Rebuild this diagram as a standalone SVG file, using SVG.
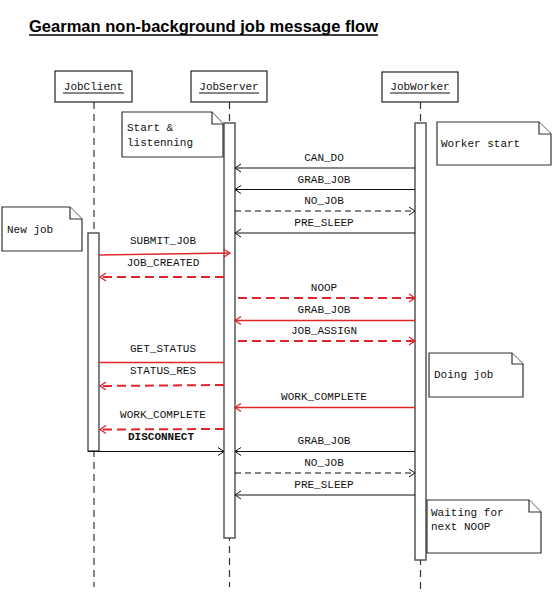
<svg xmlns="http://www.w3.org/2000/svg" width="554" height="614" viewBox="0 0 554 614">
<style>
.t{font-family:"Liberation Mono","DejaVu Sans Mono",monospace;font-size:11px;fill:#111}
.c{text-anchor:middle}
.box{fill:#fff;stroke:#222;stroke-width:1.2}
.life{stroke:#333;stroke-width:1.2;stroke-dasharray:7 5;fill:none}
.bar{fill:#fff;stroke:#555;stroke-width:1.5}
.note{fill:#fff;stroke:#333;stroke-width:1.2}
.m{stroke:#111;stroke-width:1;fill:none}
.md{stroke:#111;stroke-width:1;fill:none;stroke-dasharray:6 4}
.r{stroke:#e0262b;stroke-width:1.3;fill:none}
.rd{stroke:#e0262b;stroke-width:2;fill:none;stroke-dasharray:9 5}
.ah{stroke:#111;stroke-width:1;fill:none}
.rh{stroke:#e0262b;stroke-width:1.3;fill:none}
</style>
<rect width="554" height="614" fill="#fff"/>
<g id="title">
<text x="29" y="32" font-family="'Liberation Sans',Arial,sans-serif" font-weight="bold" font-size="16.5" textLength="349" lengthAdjust="spacingAndGlyphs" fill="#000">Gearman non-background job message flow</text>
<line x1="29" y1="35" x2="378" y2="35" stroke="#000" stroke-width="1.5"/>
</g>
<g id="JobClient">
<line class="life" x1="94" y1="102" x2="94" y2="587"/>
<rect class="box" x="55" y="71" width="77" height="31"/>
<text class="t c" x="93.5" y="90">JobClient</text>
<line x1="63" y1="93" x2="124" y2="93" stroke="#111" stroke-width="1"/>
<rect class="bar" x="88" y="233" width="11" height="218"/>
</g>
<g id="JobServer">
<line class="life" x1="229.5" y1="102" x2="229.5" y2="587"/>
<rect class="box" x="191" y="71" width="76" height="31"/>
<text class="t c" x="229" y="90">JobServer</text>
<line x1="199" y1="93" x2="259" y2="93" stroke="#111" stroke-width="1"/>
<rect class="bar" x="224" y="123" width="11" height="415"/>
</g>
<g id="JobWorker">
<line class="life" x1="420.5" y1="102" x2="420.5" y2="590"/>
<rect class="box" x="382" y="72" width="76" height="30"/>
<text class="t c" x="420" y="90">JobWorker</text>
<line x1="390" y1="93" x2="450" y2="93" stroke="#111" stroke-width="1"/>
<rect class="bar" x="415" y="123" width="11" height="437"/>
</g>
<g id="note-start">
<path class="note" d="M122,112 H212 L223,124 V157 H122 Z"/>
<path class="note" d="M212,112 V124 H223" fill="none"/>
<text class="t" x="127" y="131">Start &amp;</text>
<text class="t" x="127" y="146">listenning</text>
</g>
<g id="note-worker">
<path class="note" d="M437,122 H539 L551,134 V165 H437 Z"/>
<path class="note" d="M539,122 V134 H551" fill="none"/>
<text class="t" x="441" y="147">Worker start</text>
</g>
<g id="note-newjob">
<path class="note" d="M2,207 H70 L82,219 V251 H2 Z"/>
<path class="note" d="M70,207 V219 H82" fill="none"/>
<text class="t" x="7" y="233">New job</text>
</g>
<g id="note-doing">
<path class="note" d="M429,353 H512 L523,364 V397 H429 Z"/>
<path class="note" d="M512,353 V364 H523" fill="none"/>
<text class="t" x="434" y="378">Doing job</text>
</g>
<g id="note-waiting">
<path class="note" d="M427,500 H529 L541,512 V553 H427 Z"/>
<path class="note" d="M529,500 V512 H541" fill="none"/>
<text class="t" x="431" y="516">Waiting for</text>
<text class="t" x="431" y="530">next NOOP</text>
</g>
<g id="connectors">
<!-- CAN_DO -->
<line class="m" x1="415" y1="168" x2="235" y2="168"/>
<path class="ah" d="M241,164 L235,168 L241,172"/>
<text class="t c" x="324" y="161">CAN_DO</text>
<!-- GRAB_JOB -->
<line class="m" x1="415" y1="189.5" x2="235" y2="189.5"/>
<path class="ah" d="M241,185.5 L235,189.5 L241,193.5"/>
<text class="t c" x="324" y="183">GRAB_JOB</text>
<!-- NO_JOB -->
<line class="md" x1="235" y1="211" x2="415" y2="211"/>
<path class="ah" d="M409,207 L415,211 L409,215"/>
<text class="t c" x="324" y="204">NO_JOB</text>
<!-- PRE_SLEEP -->
<line class="m" x1="415" y1="233" x2="235" y2="233"/>
<path class="ah" d="M241,229 L235,233 L241,237"/>
<text class="t c" x="324" y="226">PRE_SLEEP</text>
<!-- SUBMIT_JOB -->
<line class="r" x1="99" y1="255" x2="230" y2="253"/>
<path class="rh" d="M224,249.5 L230,253 L224,257"/>
<text class="t c" x="163" y="244">SUBMIT_JOB</text>
<!-- JOB_CREATED -->
<line class="rd" x1="224" y1="277" x2="100" y2="277"/>
<path class="rh" d="M106,273 L100,277 L106,281"/>
<text class="t c" x="163" y="266">JOB_CREATED</text>
<!-- NOOP -->
<line class="rd" x1="238" y1="298" x2="415" y2="298"/>
<path class="rh" d="M409,294 L415,298 L409,302"/>
<text class="t c" x="324" y="291">NOOP</text>
<!-- GRAB_JOB red -->
<line class="r" x1="415" y1="320.5" x2="235" y2="320.5"/>
<path class="rh" d="M241,316.5 L235,320.5 L241,324.5"/>
<text class="t c" x="324" y="313">GRAB_JOB</text>
<!-- JOB_ASSIGN -->
<line class="rd" x1="238" y1="341" x2="415" y2="341"/>
<path class="rh" d="M409,337 L415,341 L409,345"/>
<text class="t c" x="324" y="334">JOB_ASSIGN</text>
<!-- GET_STATUS -->
<line class="r" x1="99" y1="362.5" x2="224" y2="362.5"/>
<text class="t c" x="163" y="352">GET_STATUS</text>
<!-- STATUS_RES -->
<line class="rd" x1="224" y1="385" x2="100" y2="386"/>
<path class="rh" d="M106,382 L100,386 L106,390"/>
<text class="t c" x="163" y="374">STATUS_RES</text>
<!-- WORK_COMPLETE worker -->
<line class="r" x1="415" y1="407.5" x2="235" y2="407.5"/>
<path class="rh" d="M241,403.5 L235,407.5 L241,411.5"/>
<text class="t c" x="324" y="400">WORK_COMPLETE</text>
<!-- WORK_COMPLETE client -->
<line class="rd" x1="224" y1="429" x2="100" y2="429.5"/>
<path class="rh" d="M106,425.5 L100,429.5 L106,433.5"/>
<text class="t c" x="163" y="418">WORK_COMPLETE</text>
<!-- DISCONNECT -->
<line class="m" x1="88" y1="451.5" x2="224" y2="451.5"/>
<path class="ah" d="M218,447.5 L224,451.5 L218,455.5"/>
<text class="t c" x="161" y="440" font-weight="bold">DISCONNECT</text>
<!-- GRAB_JOB 2 -->
<line class="m" x1="415" y1="451.5" x2="235" y2="451.5"/>
<path class="ah" d="M241,447.5 L235,451.5 L241,455.5"/>
<text class="t c" x="324" y="444">GRAB_JOB</text>
<!-- NO_JOB 2 -->
<line class="md" x1="235" y1="473" x2="415" y2="473"/>
<path class="ah" d="M409,469 L415,473 L409,477"/>
<text class="t c" x="324" y="466">NO_JOB</text>
<!-- PRE_SLEEP 2 -->
<line class="m" x1="415" y1="495" x2="235" y2="495"/>
<path class="ah" d="M241,491 L235,495 L241,499"/>
<text class="t c" x="324" y="488">PRE_SLEEP</text>
</g>
</svg>
